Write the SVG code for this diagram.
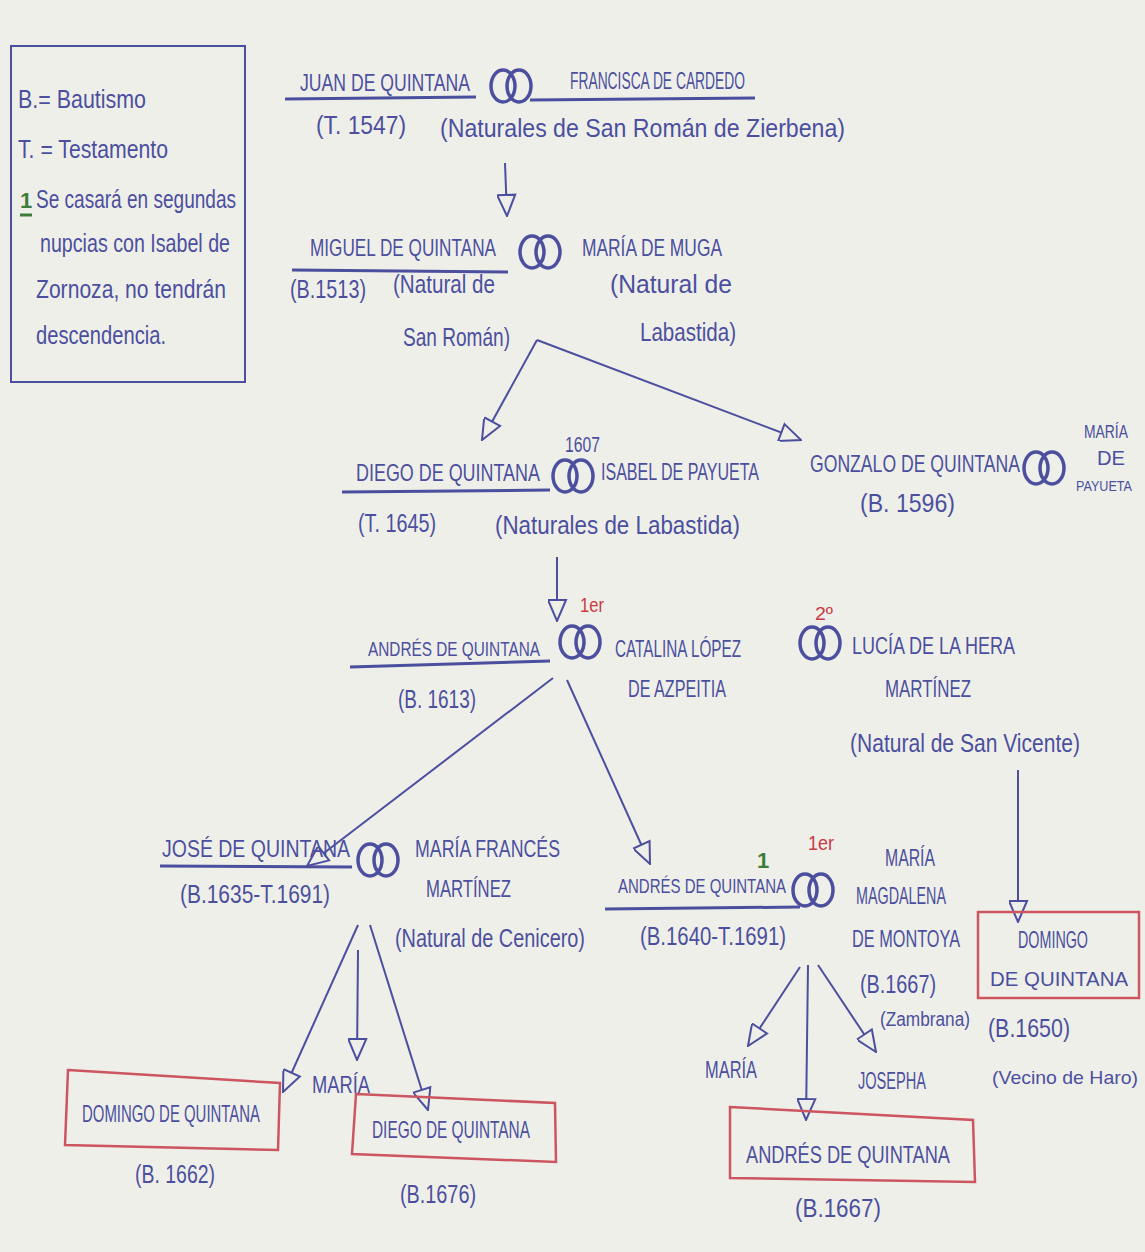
<svg xmlns="http://www.w3.org/2000/svg" width="1145" height="1252" viewBox="0 0 1145 1252">
<style>
.ink{fill:#4b4f9e;font-family:"Liberation Sans Narrow","Liberation Sans",sans-serif;}
.nm{font-size:24px;}
.sm{font-size:20px;}
.sb{font-size:25px;}
.lg{font-size:26px;}
.red{fill:#c83a44;font-family:"Liberation Sans",sans-serif;}
.grn{fill:#3d7d3a;font-family:"Liberation Sans",sans-serif;font-weight:bold;}
.ul{stroke:#4b4f9e;stroke-width:3;fill:none;}
.box{stroke:#cc5560;stroke-width:2.5;fill:none;}
.con{stroke:#4b4f9e;stroke-width:2;fill:none;marker-end:url(#tri);}
.ring{stroke:#4b4f9e;stroke-width:3.5;fill:none;}
</style>
<defs>
<marker id="tri" markerUnits="userSpaceOnUse" markerWidth="24" markerHeight="20" refX="21" refY="9" orient="auto" viewBox="-2 -2 24 20">
<path d="M0,0 L21,9 L0,18 Z" fill="#efefea" stroke="#4b4f9e" stroke-width="2"/>
</marker>
<g id="rings">
<ellipse cx="-8" cy="0" rx="12" ry="16" class="ring"/>
<ellipse cx="8" cy="0" rx="12" ry="16" class="ring"/>
</g>
</defs>
<rect width="1145" height="1252" fill="#efefea"/>

<g id="legend">
<rect x="11" y="46" width="234" height="336" fill="none" stroke="#4b4f9e" stroke-width="2"/>
<text class="ink lg" x="18" y="108" textLength="128" lengthAdjust="spacingAndGlyphs">B.= Bautismo</text>
<text class="ink lg" x="18" y="158" textLength="150" lengthAdjust="spacingAndGlyphs">T. = Testamento</text>
<text class="grn" x="20" y="208" font-size="22">1</text>
<line x1="20" y1="215" x2="32" y2="215" stroke="#3d7d3a" stroke-width="3"/>
<text class="ink lg" x="36" y="208" textLength="200" lengthAdjust="spacingAndGlyphs">Se casará en segundas</text>
<text class="ink lg" x="40" y="252" textLength="190" lengthAdjust="spacingAndGlyphs">nupcias con Isabel de</text>
<text class="ink lg" x="36" y="298" textLength="190" lengthAdjust="spacingAndGlyphs">Zornoza, no tendrán</text>
<text class="ink lg" x="36" y="344" textLength="130" lengthAdjust="spacingAndGlyphs">descendencia.</text>
</g>

<g id="connectors">
<line class="con" x1="505" y1="163" x2="507" y2="216"/>
<line class="con" x1="537" y1="340" x2="482" y2="440"/>
<line class="con" x1="537" y1="340" x2="801" y2="440"/>
<line class="con" x1="557" y1="557" x2="557" y2="621"/>
<line class="con" x1="553" y1="678" x2="307" y2="866"/>
<line class="con" x1="567" y1="680" x2="650" y2="864"/>
<line class="con" x1="1018" y1="770" x2="1018" y2="922"/>
<line class="con" x1="358" y1="925" x2="283" y2="1092"/>
<line class="con" x1="358" y1="950" x2="357" y2="1060"/>
<line class="con" x1="370" y1="925" x2="428" y2="1110"/>
<line class="con" x1="800" y1="967" x2="748" y2="1046"/>
<line class="con" x1="808" y1="965" x2="806" y2="1120"/>
<line class="con" x1="818" y1="965" x2="876" y2="1052"/>
</g>

<g id="juan">
<text class="ink nm" x="300" y="91" textLength="170" lengthAdjust="spacingAndGlyphs">JUAN DE QUINTANA</text>
<line class="ul" x1="285" y1="99" x2="476" y2="97"/>
<use href="#rings" x="511" y="86"/>
<text class="ink sb" x="316" y="134" textLength="90" lengthAdjust="spacingAndGlyphs">(T. 1547)</text>
</g>
<g id="francisca">
<text class="ink nm" x="570" y="89" textLength="175" lengthAdjust="spacingAndGlyphs">FRANCISCA DE CARDEDO</text>
<line class="ul" x1="530" y1="100" x2="755" y2="98"/>
<text class="ink sb" x="440" y="137" textLength="405" lengthAdjust="spacingAndGlyphs">(Naturales de San Román de Zierbena)</text>
</g>

<g id="miguel">
<text class="ink nm" x="310" y="256" textLength="186" lengthAdjust="spacingAndGlyphs">MIGUEL DE QUINTANA</text>
<line class="ul" x1="292" y1="270" x2="508" y2="272"/>
<use href="#rings" x="540" y="252"/>
<text class="ink sb" x="290" y="298" textLength="76" lengthAdjust="spacingAndGlyphs">(B.1513)</text>
<text class="ink sb" x="393" y="293" textLength="102" lengthAdjust="spacingAndGlyphs">(Natural de</text>
<text class="ink sb" x="403" y="346" textLength="107" lengthAdjust="spacingAndGlyphs">San Román)</text>
</g>
<g id="mariamuga">
<text class="ink nm" x="582" y="256" textLength="140" lengthAdjust="spacingAndGlyphs">MARÍA DE MUGA</text>
<text class="ink sb" x="610" y="293" textLength="122" lengthAdjust="spacingAndGlyphs">(Natural de</text>
<text class="ink sb" x="640" y="341" textLength="96" lengthAdjust="spacingAndGlyphs">Labastida)</text>
</g>

<g id="diego">
<text class="ink nm" x="356" y="481" textLength="184" lengthAdjust="spacingAndGlyphs">DIEGO DE QUINTANA</text>
<line class="ul" x1="342" y1="492" x2="550" y2="490"/>
<text class="ink" x="565" y="452" font-size="22" textLength="35" lengthAdjust="spacingAndGlyphs">1607</text>
<use href="#rings" x="573" y="476"/>
<text class="ink sb" x="358" y="532" textLength="78" lengthAdjust="spacingAndGlyphs">(T. 1645)</text>
</g>
<g id="isabel">
<text class="ink nm" x="601" y="480" textLength="158" lengthAdjust="spacingAndGlyphs">ISABEL DE PAYUETA</text>
<text class="ink sb" x="495" y="534" textLength="245" lengthAdjust="spacingAndGlyphs">(Naturales de Labastida)</text>
</g>

<g id="gonzalo">
<text class="ink nm" x="810" y="472" textLength="210" lengthAdjust="spacingAndGlyphs">GONZALO DE QUINTANA</text>
<use href="#rings" x="1044" y="468"/>
<text class="ink sb" x="860" y="512" textLength="95" lengthAdjust="spacingAndGlyphs">(B. 1596)</text>
</g>
<g id="mariapayueta">
<text class="ink" font-size="19" x="1084" y="438" textLength="44" lengthAdjust="spacingAndGlyphs">MARÍA</text>
<text class="ink" font-size="21" x="1097" y="465" textLength="28" lengthAdjust="spacingAndGlyphs">DE</text>
<text class="ink" font-size="15" x="1076" y="491" textLength="56" lengthAdjust="spacingAndGlyphs">PAYUETA</text>
</g>

<g id="andres1613">
<text class="ink sm" x="368" y="656" textLength="172" lengthAdjust="spacingAndGlyphs">ANDRÉS DE QUINTANA</text>
<line class="ul" x1="350" y1="667" x2="550" y2="661"/>
<use href="#rings" x="580" y="642"/>
<text class="red" x="580" y="612" font-size="20" textLength="24" lengthAdjust="spacingAndGlyphs">1er</text>
<text class="ink sb" x="398" y="708" textLength="78" lengthAdjust="spacingAndGlyphs">(B. 1613)</text>
</g>
<g id="catalina">
<text class="ink nm" x="615" y="657" textLength="126" lengthAdjust="spacingAndGlyphs">CATALINA LÓPEZ</text>
<text class="ink nm" x="628" y="697" textLength="98" lengthAdjust="spacingAndGlyphs">DE AZPEITIA</text>
</g>
<g id="lucia">
<text class="red" x="815" y="620" font-size="18" textLength="18" lengthAdjust="spacingAndGlyphs">2º</text>
<use href="#rings" x="820" y="643"/>
<text class="ink nm" x="852" y="654" textLength="163" lengthAdjust="spacingAndGlyphs">LUCÍA DE LA HERA</text>
<text class="ink nm" x="885" y="697" textLength="86" lengthAdjust="spacingAndGlyphs">MARTÍNEZ</text>
<text class="ink sb" x="850" y="752" textLength="230" lengthAdjust="spacingAndGlyphs">(Natural de San Vicente)</text>
</g>

<g id="domingo1650">
<rect class="box" x="978" y="912" width="161" height="86"/>
<text class="ink nm" x="1018" y="948" textLength="70" lengthAdjust="spacingAndGlyphs">DOMINGO</text>
<text class="ink" font-size="20" x="990" y="986" textLength="138" lengthAdjust="spacingAndGlyphs">DE QUINTANA</text>
<text class="ink sb" x="988" y="1037" textLength="82" lengthAdjust="spacingAndGlyphs">(B.1650)</text>
<text class="ink" font-size="19" x="992" y="1084" textLength="146" lengthAdjust="spacingAndGlyphs">(Vecino de Haro)</text>
</g>

<g id="jose">
<text class="ink nm" x="162" y="857" textLength="188" lengthAdjust="spacingAndGlyphs">JOSÉ DE QUINTANA</text>
<line class="ul" x1="160" y1="866" x2="352" y2="867"/>
<use href="#rings" x="378" y="860"/>
<text class="ink sb" x="180" y="903" textLength="150" lengthAdjust="spacingAndGlyphs">(B.1635-T.1691)</text>
</g>
<g id="mariafrances">
<text class="ink nm" x="415" y="857" textLength="145" lengthAdjust="spacingAndGlyphs">MARÍA FRANCÉS</text>
<text class="ink nm" x="426" y="897" textLength="85" lengthAdjust="spacingAndGlyphs">MARTÍNEZ</text>
<text class="ink sb" x="395" y="947" textLength="190" lengthAdjust="spacingAndGlyphs">(Natural de Cenicero)</text>
</g>

<g id="andres1640">
<text class="grn" x="757" y="868" font-size="22">1</text>
<text class="ink sm" x="618" y="893" textLength="168" lengthAdjust="spacingAndGlyphs">ANDRÉS DE QUINTANA</text>
<line class="ul" x1="605" y1="909" x2="800" y2="907"/>
<use href="#rings" x="813" y="890"/>
<text class="red" x="808" y="850" font-size="20" textLength="26" lengthAdjust="spacingAndGlyphs">1er</text>
<text class="ink sb" x="640" y="945" textLength="146" lengthAdjust="spacingAndGlyphs">(B.1640-T.1691)</text>
</g>
<g id="mariamagdalena">
<text class="ink nm" x="885" y="866" textLength="50" lengthAdjust="spacingAndGlyphs">MARÍA</text>
<text class="ink nm" x="856" y="904" textLength="90" lengthAdjust="spacingAndGlyphs">MAGDALENA</text>
<text class="ink nm" x="852" y="947" textLength="108" lengthAdjust="spacingAndGlyphs">DE MONTOYA</text>
<text class="ink sb" x="860" y="993" textLength="76" lengthAdjust="spacingAndGlyphs">(B.1667)</text>
<text class="ink" x="880" y="1026" font-size="20" textLength="90" lengthAdjust="spacingAndGlyphs">(Zambrana)</text>
</g>

<g id="domingo1662">
<path class="box" d="M68,1070 L280,1083 L278,1150 L65,1145 Z"/>
<text class="ink nm" x="82" y="1122" textLength="178" lengthAdjust="spacingAndGlyphs">DOMINGO DE QUINTANA</text>
<text class="ink sb" x="135" y="1183" textLength="80" lengthAdjust="spacingAndGlyphs">(B. 1662)</text>
</g>
<g id="maria1">
<text class="ink nm" x="312" y="1093" textLength="58" lengthAdjust="spacingAndGlyphs">MARÍA</text>
</g>
<g id="diego1676">
<path class="box" d="M356,1094 L555,1103 L556,1162 L352,1154 Z"/>
<text class="ink nm" x="372" y="1138" textLength="158" lengthAdjust="spacingAndGlyphs">DIEGO DE QUINTANA</text>
<text class="ink sb" x="400" y="1203" textLength="76" lengthAdjust="spacingAndGlyphs">(B.1676)</text>
</g>

<g id="maria2">
<text class="ink nm" x="705" y="1078" textLength="52" lengthAdjust="spacingAndGlyphs">MARÍA</text>
</g>
<g id="josepha">
<text class="ink nm" x="858" y="1089" textLength="68" lengthAdjust="spacingAndGlyphs">JOSEPHA</text>
</g>
<g id="andres1667">
<path class="box" d="M730,1107 L973,1120 L975,1182 L730,1178 Z"/>
<text class="ink nm" x="746" y="1163" textLength="204" lengthAdjust="spacingAndGlyphs">ANDRÉS DE QUINTANA</text>
<text class="ink sb" x="795" y="1217" textLength="86" lengthAdjust="spacingAndGlyphs">(B.1667)</text>
</g>
</svg>
